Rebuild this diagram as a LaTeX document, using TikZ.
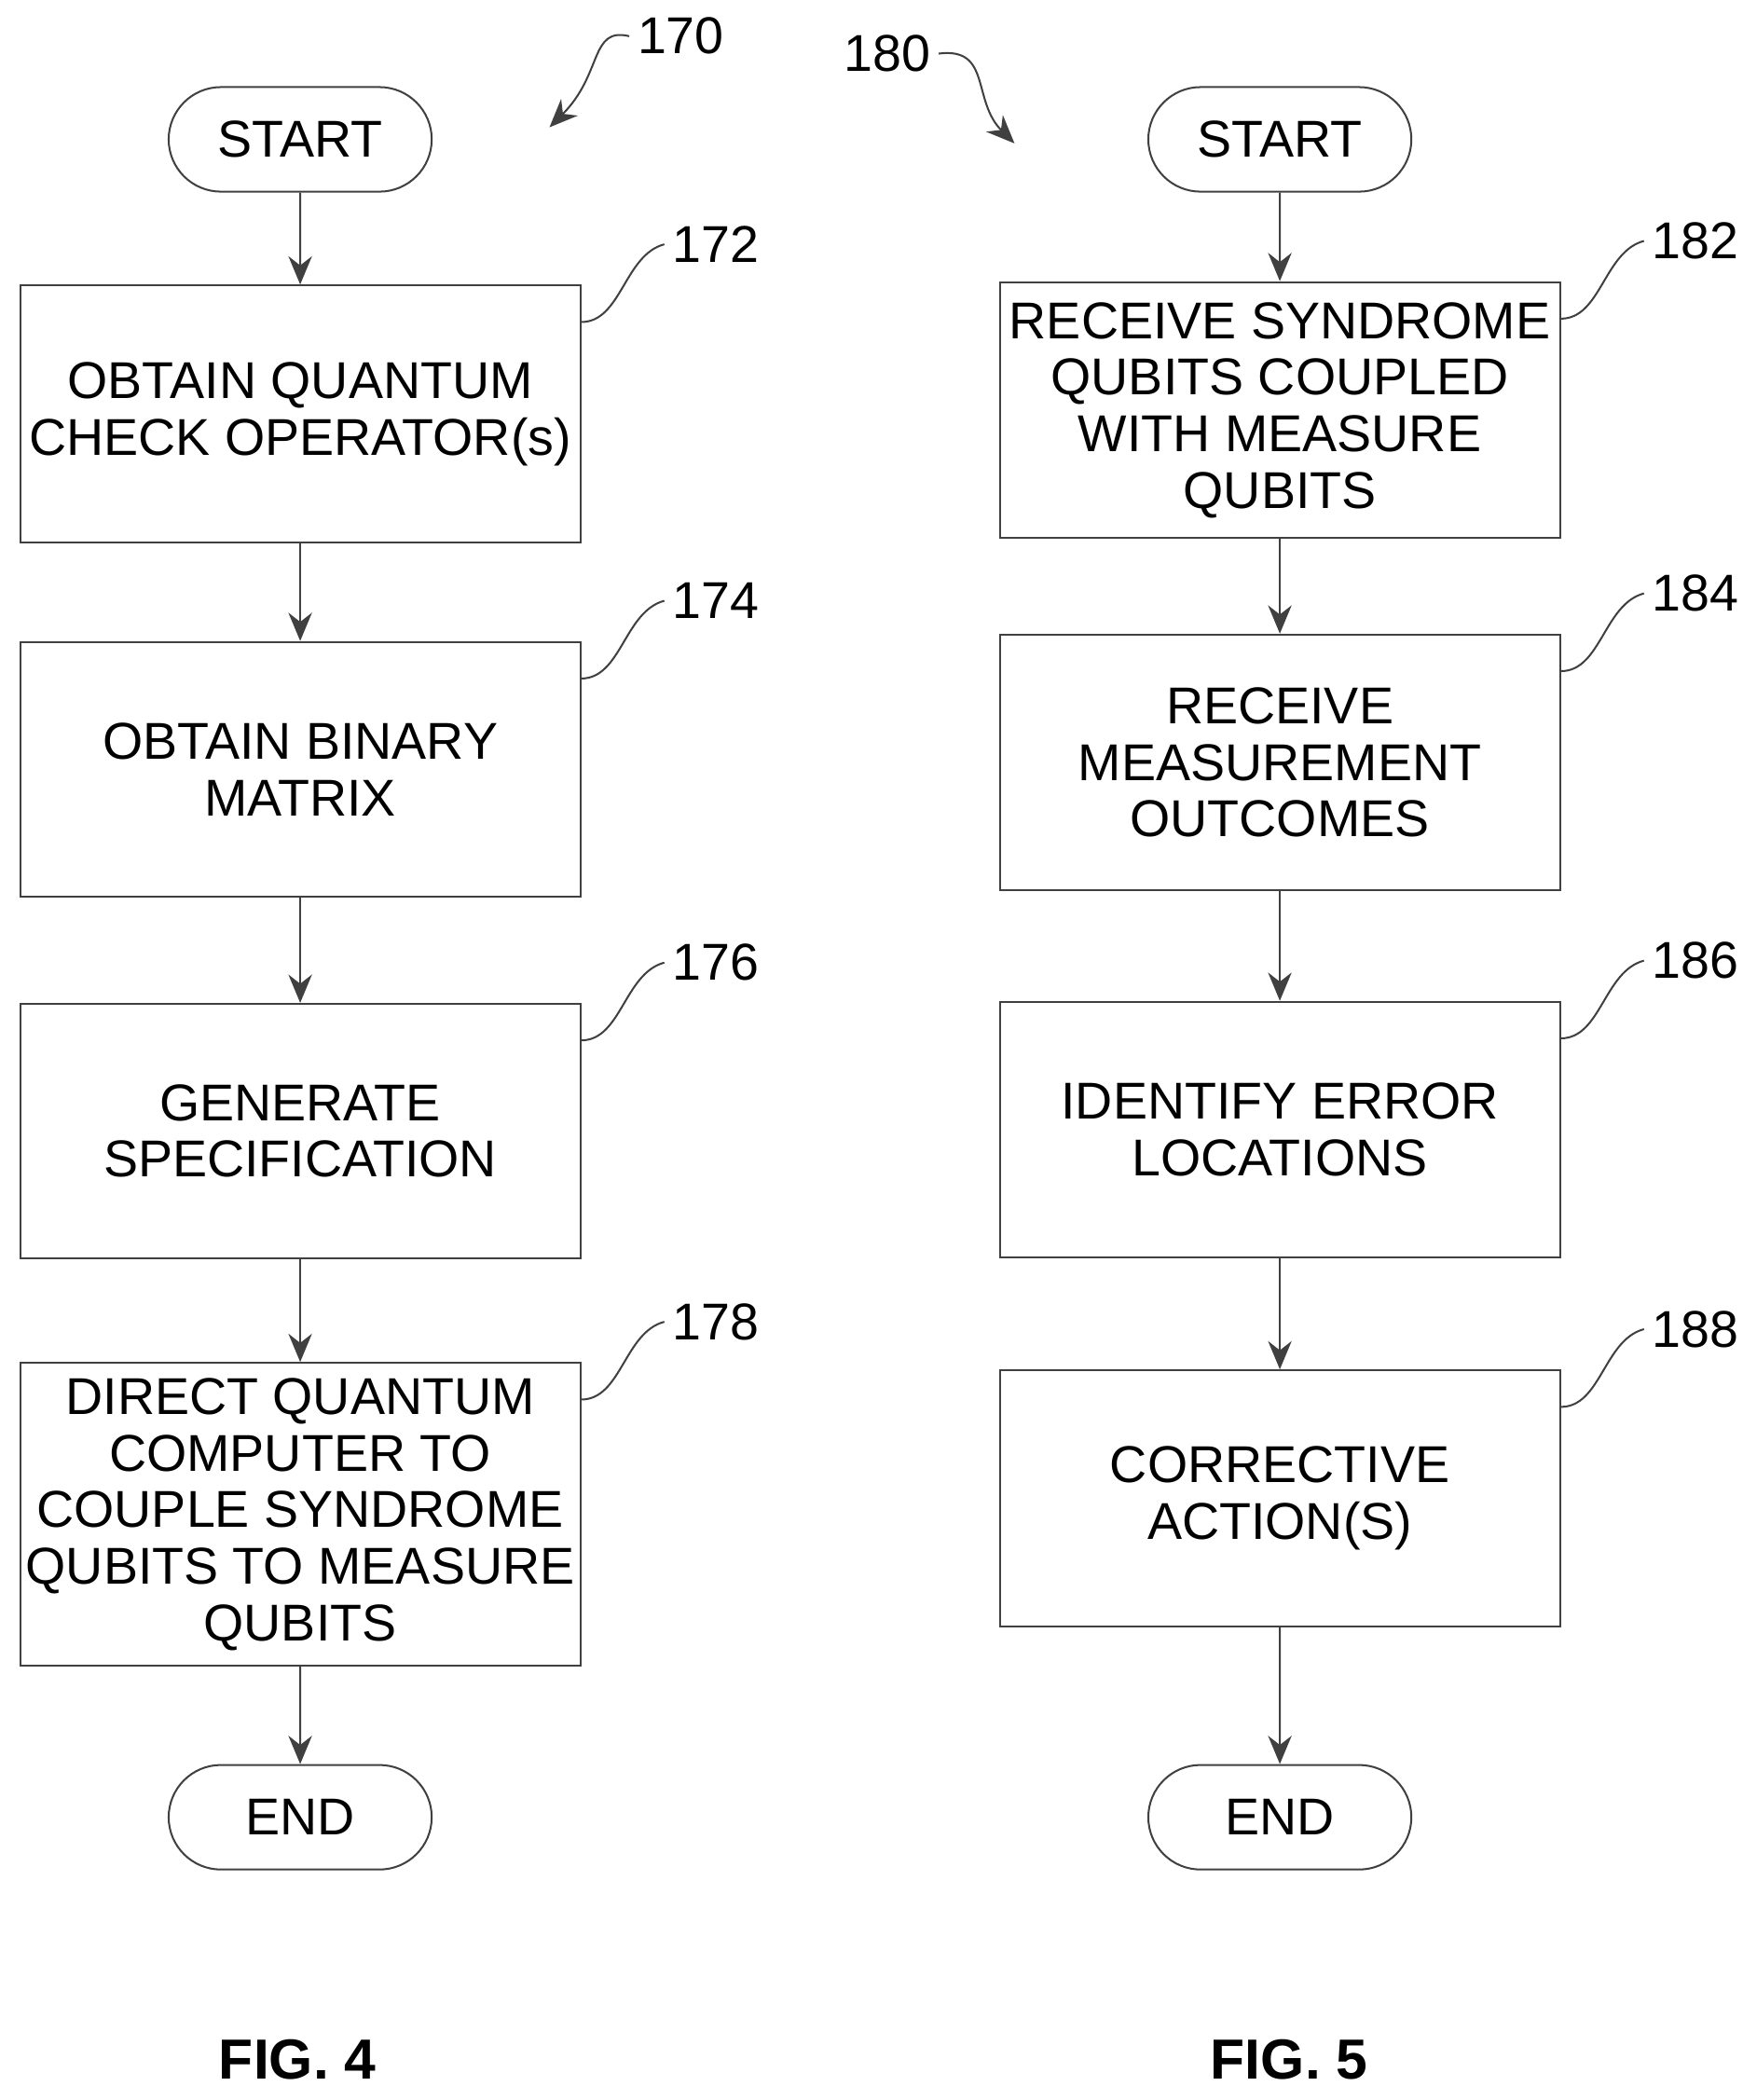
\documentclass[tikz,border=0pt]{standalone}
\usepackage{fontspec}
\setmainfont{Liberation Sans}
\usetikzlibrary{arrows.meta,positioning,shapes.misc}

\begin{document}
\begin{tikzpicture}[x=0.02cm,y=-0.02cm,
    every node/.style={font=\fontsize{22}{24}\selectfont},
    stepbox/.style={draw=black!75,thick,minimum width=418*0.02cm,align=center,inner sep=2pt},
    term/.style={draw=black!75,thick,rounded rectangle,minimum width=208*0.02cm,minimum height=78*0.02cm},
    flow/.style={draw=black!75,thick,-{Stealth[length=12pt,width=10pt]}},
    lead/.style={draw=black!75,thick},
    tag/.style={anchor=west}]
  \useasboundingbox (0,0) rectangle (1300,1567);

  % FIG. 4
  \node[term] (start4) at (224,104) {START};
  \node[stepbox,minimum height=192*0.02cm] (s172) at (224,309) {OBTAIN QUANTUM\\CHECK OPERATOR(s)};
  \node[stepbox,minimum height=190*0.02cm] (s174) at (224,574) {OBTAIN BINARY\\MATRIX};
  \node[stepbox,minimum height=190*0.02cm] (s176) at (224,844) {GENERATE\\SPECIFICATION};
  \node[stepbox,minimum height=226*0.02cm] (s178) at (224,1130) {DIRECT QUANTUM\\COMPUTER TO\\COUPLE SYNDROME\\QUBITS TO MEASURE\\QUBITS};
  \node[term] (end4) at (224,1356) {END};
  \path[flow] (start4) -- (s172);
  \path[flow] (s172) -- (s174);
  \path[flow] (s174) -- (s176);
  \path[flow] (s176) -- (s178);
  \path[flow] (s178) -- (end4);

  % FIG. 5
  \node[term] (start5) at (955,104) {START};
  \node[stepbox,minimum height=191*0.02cm] (s182) at (955,306) {RECEIVE SYNDROME\\QUBITS COUPLED\\WITH MEASURE\\QUBITS};
  \node[stepbox,minimum height=191*0.02cm] (s184) at (955,569) {RECEIVE\\MEASUREMENT\\OUTCOMES};
  \node[stepbox,minimum height=191*0.02cm] (s186) at (955,843) {IDENTIFY ERROR\\LOCATIONS};
  \node[stepbox,minimum height=191*0.02cm] (s188) at (955,1118) {CORRECTIVE\\ACTION(S)};
  \node[term] (end5) at (955,1356) {END};
  \path[flow] (start5) -- (s182);
  \path[flow] (s182) -- (s184);
  \path[flow] (s184) -- (s186);
  \path[flow] (s186) -- (s188);
  \path[flow] (s188) -- (end5);

  % reference numerals
  \foreach \bx/\num in {s172/172,s174/174,s176/176,s178/178,s182/182,s184/184,s186/186,s188/188}{
    \node[tag] (n\num) at ([xshift=62*0.02cm,yshift=30*0.02cm]\bx.north east) {\num};
    \path[lead] ([yshift=-28*0.02cm]\bx.north east) .. controls +(30*0.02cm,0) and +(-30*0.02cm,-8*0.02cm) .. (n\num.west);
  }
  \node (n170) at (508,27) {170};
  \coordinate (p170) at (410,95);
  \path[flow] (n170.west) .. controls (440,20) and (450,55) .. (p170);
  \node (n180) at (662,40) {180};
  \coordinate (p180) at (757,107);
  \path[flow] (n180.east) .. controls (740,35) and (725,75) .. (p180);

  \node[font=\fontsize{24}{26}\selectfont\bfseries] (fig4) at (222,1537) {FIG. 4};
  \node[font=\fontsize{24}{26}\selectfont\bfseries] (fig5) at (962,1537) {FIG. 5};
\end{tikzpicture}
\end{document}
